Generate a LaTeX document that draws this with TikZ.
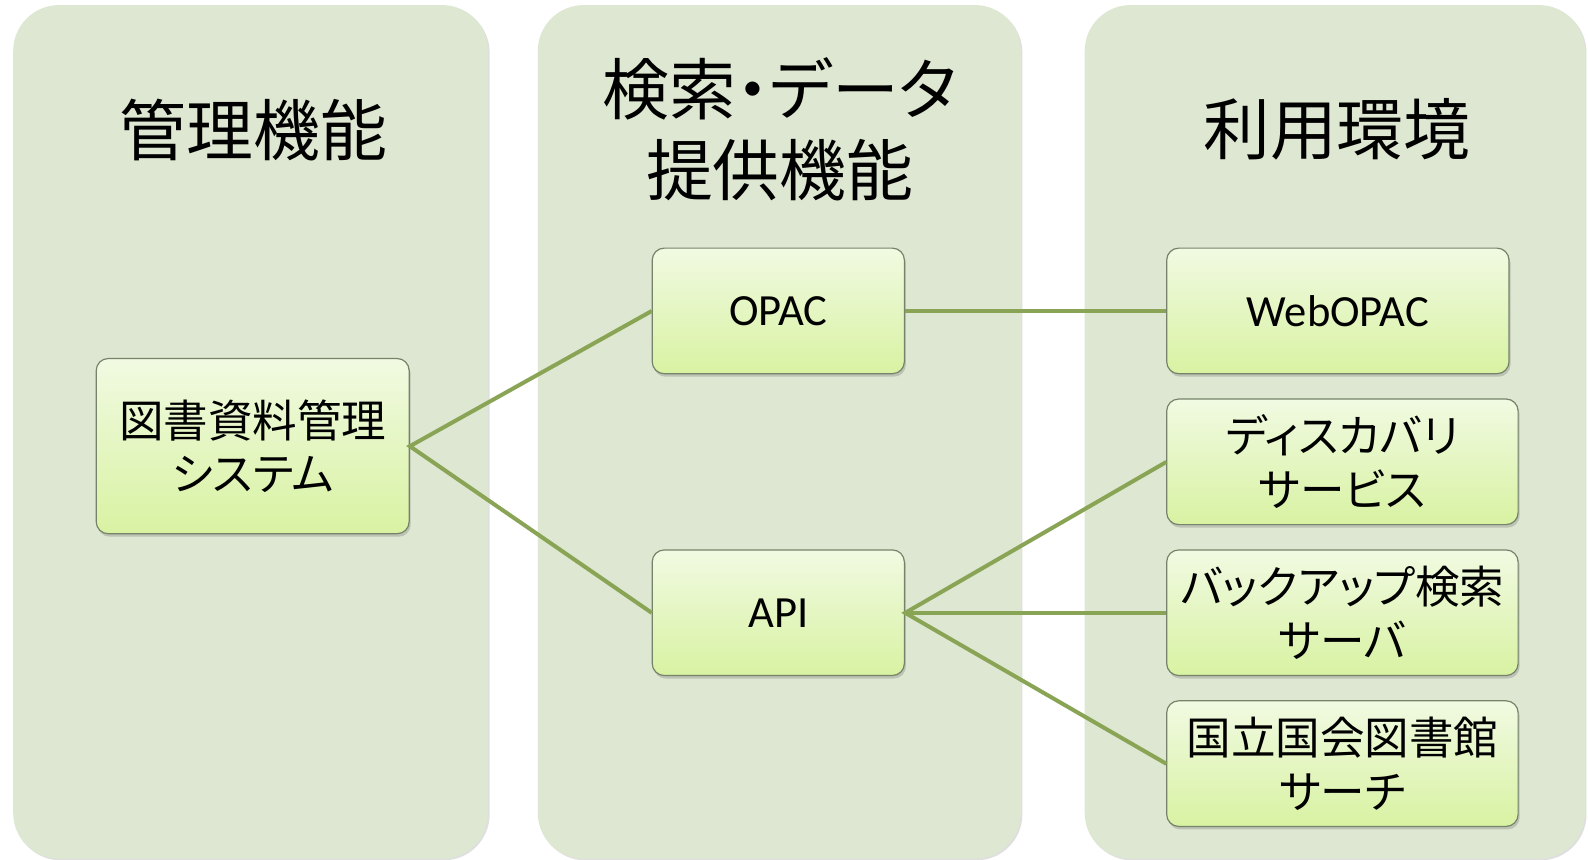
\documentclass[tikz,border=0pt]{standalone}
\usepackage{fontspec}
\setmainfont{Carlito}
\newfontfamily\jp[RawFeature=+palt]{Noto Sans CJK JP}
\usetikzlibrary{shadows}
\definecolor{colbg}{HTML}{DEE7D1}
\definecolor{boxtop}{HTML}{F1FAE2}
\definecolor{boxbot}{HTML}{D8F2A2}
\definecolor{boxline}{HTML}{76836A}
\definecolor{linkc}{HTML}{89A455}
\begin{document}
\begin{tikzpicture}[x=1pt,y=-1pt,scale=1.01276,every node/.append style={transform shape},
  colbox/.style={fill=colbg, rounded corners=46pt, inner sep=0pt,
    drop shadow={shadow xshift=1.5pt, shadow yshift=-1.5pt, opacity=0.25}},
  title/.style={font=\jp\fontsize{66}{80}\selectfont, align=center, inner sep=0pt},
  item/.style={draw=boxline, line width=1.2pt, rounded corners=12pt,
    top color=boxtop, bottom color=boxbot, inner sep=0pt, align=center,
    drop shadow={shadow xshift=1.5pt, shadow yshift=-3pt, opacity=0.35},
    font=\jp\fontsize{44}{53}\selectfont},
  latin/.style={font=\fontsize{44}{52}\selectfont},
  link/.style={draw=linkc, line width=4pt}]
\useasboundingbox (0,0) rectangle (1568,849.15);
\fill[white] (0,0) rectangle (1568,849.15);
% columns
\node[colbox, minimum width=469pt, minimum height=843pt] (col1) at (247.5,426.5) {};
\node[colbox, minimum width=477pt, minimum height=843pt] (col2) at (769.5,426.5) {};
\node[colbox, minimum width=494pt, minimum height=843pt] (col3) at (1318,426.5) {};
% titles
\node[title] (t1) at (250,128) {管理機能};
\node[title] (t2) at (770,128) {検索・データ\\提供機能};
\node[title] (t3) at (1320,128) {利用環境};
% boxes
\node[item, minimum width=309pt, minimum height=173pt] (sys) at (249.5,440.5) {図書資料管理\\システム};
\node[item, latin, minimum width=249pt, minimum height=124pt] (opac) at (768.5,307) {OPAC};
\node[item, latin, minimum width=249pt, minimum height=124pt] (api) at (768.5,605) {API};
\node[item, latin, minimum width=338pt, minimum height=124pt] (web) at (1321,307) {WebOPAC};
\node[item, minimum width=347pt, minimum height=124pt] (disc) at (1325.5,456) {ディスカバリ\\サービス};
\node[item, minimum width=347pt, minimum height=124pt] (back) at (1325.5,605) {バックアップ検索\\サーバ};
\node[item, minimum width=347pt, minimum height=124pt] (ndl) at (1325.5,754) {国立国会図書館\\サーチ};
% links
\draw[link] (opac.west) -- (sys.east) -- (api.west);
\draw[link] (opac.east) -- (web.west);
\draw[link] (disc.west) -- (api.east) -- (ndl.west);
\draw[link] (api.east) -- (back.west);
\end{tikzpicture}
\end{document}
